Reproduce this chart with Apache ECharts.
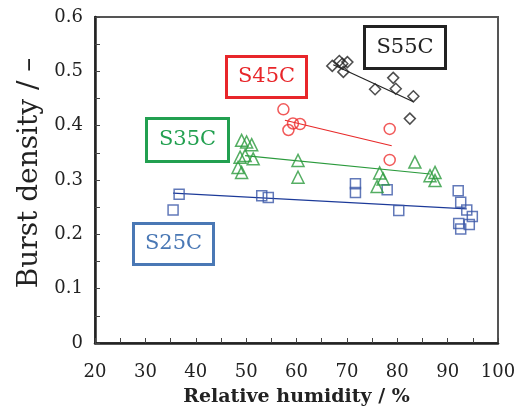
<!DOCTYPE html>
<html>
<head>
<meta charset="utf-8">
<script src="https://cdn.jsdelivr.net/npm/echarts@6/dist/echarts.min.js"></script>
<style>
  html, body { margin: 0; padding: 0; background: #fff; }
  #chart { width: 528px; height: 418px; }
</style>
</head>
<body>
<div id="chart"></div>
<script>
const s25X = [35.5, 36.7, 53.1, 54.4, 71.7, 71.7, 78.0, 80.3, 92.1, 92.6, 93.8, 94.9, 92.2, 94.3, 92.6];
const s25Y = [0.245, 0.274, 0.271, 0.268, 0.293, 0.277, 0.282, 0.244, 0.280, 0.259, 0.245, 0.233, 0.220, 0.218, 0.210];
const s35X = [49.1, 50.1, 51.1, 48.8, 49.8, 51.4, 48.4, 49.1, 60.3, 60.3, 76.5, 77.2, 76.0, 83.5, 86.5, 87.5, 87.5];
const s35Y = [0.373, 0.370, 0.365, 0.342, 0.345, 0.339, 0.323, 0.314, 0.336, 0.305, 0.313, 0.302, 0.288, 0.333, 0.308, 0.314, 0.299];
const s45X = [57.4, 58.4, 59.3, 60.7, 78.5, 78.5];
const s45Y = [0.430, 0.392, 0.404, 0.403, 0.394, 0.337];
const s55X = [67.1, 68.5, 69.1, 70.1, 69.3, 75.6, 79.2, 79.7, 83.2, 82.5];
const s55Y = [0.510, 0.519, 0.514, 0.517, 0.499, 0.467, 0.488, 0.468, 0.454, 0.413];

// fitted lines (end points)
const fit25X = [35.5, 93.8], fit25Y = [0.276, 0.247];
const fit35X = [49.8, 86.5], fit35Y = [0.345, 0.311];
const fit45X = [57.7, 78.9], fit45Y = [0.410, 0.363];
const fit55X = [67.3, 83.2], fit55Y = [0.512, 0.444];

const labels = ['S25C', 'S35C', 'S45C', 'S55C'];

const zip = (xs, ys) => xs.map((x, i) => [x, ys[i]]);
const FONT = 'DejaVu Serif';

function scatter(name, xs, ys, symbol, color, size) {
    return {
        name: name, type: 'scatter', data: zip(xs, ys),
        symbol: symbol, symbolSize: size,
        itemStyle: { color: 'transparent', borderColor: color, borderWidth: 1.5 },
        z: 3
    };
}
function fit(xs, ys, color) {
    return {
        type: 'line', data: zip(xs, ys), showSymbol: false, symbol: 'none',
        lineStyle: { color: color, width: 1.2 }, silent: true, z: 2
    };
}
function box(text, x, y, w, h, color) {
    return {
        type: 'group', left: x, top: y,
        children: [
            { type: 'rect', shape: { x: 0, y: 0, width: w, height: h },
              style: { fill: '#fff', stroke: color, lineWidth: 3 } },
            { type: 'text', x: w / 2, y: h / 2,
              style: { text: text, fill: color, font: '21px "' + FONT + '"', align: 'center', verticalAlign: 'middle' } }
        ]
    };
}

const chart = echarts.init(document.getElementById('chart'));
chart.setOption({
    animation: false,
    backgroundColor: '#fff',
    grid: { left: 95, right: 30, top: 17, bottom: 75, show: true, borderColor: '#555', borderWidth: 2 },
    xAxis: {
        type: 'value', min: 20, max: 100, interval: 10,
        name: 'Relative humidity / %', nameLocation: 'middle', nameGap: 45,
        nameTextStyle: { fontFamily: FONT, fontSize: 19, fontWeight: 600, color: '#222' },
        axisLine: { lineStyle: { color: '#222', width: 2.5 } },
        axisTick: { inside: true, length: 5, lineStyle: { color: '#444' } },
        minorTick: { show: true, splitNumber: 2, length: 5, lineStyle: { color: '#444' } },
        splitLine: { show: false },
        axisLabel: { fontFamily: FONT, fontSize: 18, color: '#222', margin: 20 }
    },
    yAxis: {
        type: 'value', min: 0, max: 0.6, interval: 0.1,
        name: 'Burst density / \u2013', nameLocation: 'middle', nameGap: 48, nameRotate: 90,
        nameTextStyle: { fontFamily: FONT, fontSize: 28, color: '#222', padding: [0, 0, 0, 14] },
        axisLine: { lineStyle: { color: '#222', width: 2.5 } },
        axisTick: { inside: true, length: 5, lineStyle: { color: '#444' } },
        minorTick: { show: true, splitNumber: 2, length: 5, lineStyle: { color: '#444' } },
        splitLine: { show: false },
        axisLabel: { fontFamily: FONT, fontSize: 18, color: '#222', margin: 12 }
    },
    series: [
        fit(fit25X, fit25Y, '#1c3a99'),
        fit(fit35X, fit35Y, '#2a9a3c'),
        fit(fit45X, fit45Y, '#e82a2a'),
        fit(fit55X, fit55Y, '#222'),
        scatter(labels[0], s25X, s25Y, 'rect', '#3b58a8', 10),
        scatter(labels[1], s35X, s35Y, 'triangle', '#2a9a3c', 12),
        scatter(labels[2], s45X, s45Y, 'circle', '#ee3030', 11),
        scatter(labels[3], s55X, s55Y, 'diamond', '#222', 11)
    ],
    graphic: [
        box(labels[3], 363, 25, 81, 42, '#222'),
        box(labels[2], 225, 55, 80, 41, '#e8262a'),
        box(labels[1], 145, 117, 82, 43, '#22a050'),
        box(labels[0], 132, 222, 80, 41, '#4a78b5')
    ]
});
</script>
</body>
</html>
